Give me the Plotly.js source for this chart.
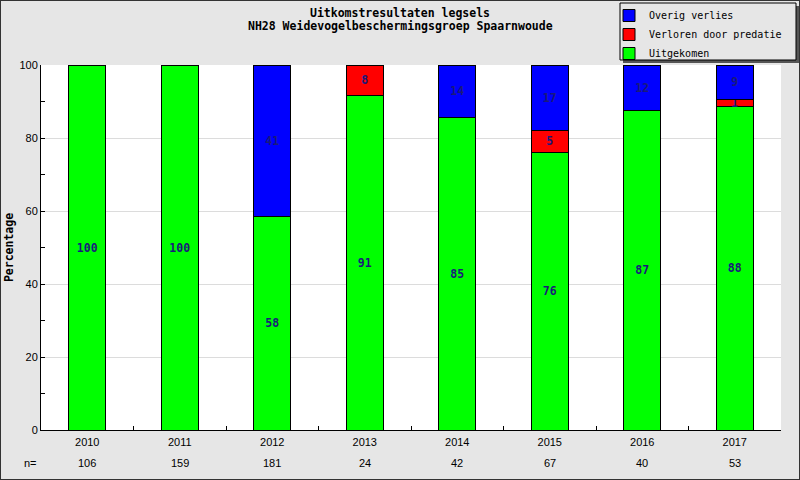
<!DOCTYPE html>
<html><head><meta charset="utf-8">
<script src="https://cdn.plot.ly/plotly-3.0.1.min.js"></script>
<style>
html,body{margin:0;padding:0;background:#e6e6e6;}
#wrap{position:relative;width:800px;height:480px;}
#chart{width:800px;height:480px;}
#frame{position:absolute;left:0;top:0;width:798px;height:478px;border:1px solid #333;pointer-events:none;}
</style></head>
<body><div id="wrap"><div id="chart"></div><div id="frame"></div></div>
<script>
const years = ['2010','2011','2012','2013','2014','2015','2016','2017'];
const nValues = [106,159,181,24,42,67,40,53];
const uitgekomen = [100,100,58.56,91.67,85.71,76.12,87.5,88.68];
const predatie = [0,0,0,8.33,0,5.97,0,1.89];
const overig = [0,0,41.44,0,14.29,17.91,12.5,9.43];
const titleLines = ['Uitkomstresultaten legsels','NH28 Weidevogelbeschermingsgroep Spaarnwoude'];

const labelOf = v => v > 0 ? String(Math.floor(v)) : '';
const textFont = {family:'DejaVu Sans Mono', size:11.5, color:'#1a1a7a', weight:'bold'};
function series(name, vals, color){
  return {type:'bar', name:name, x:years, y:vals, text:vals.map(labelOf),
    textposition:'inside', insidetextanchor:'middle', textangle:0, constraintext:'none',
    textfont:textFont, marker:{color:color, line:{color:'#000', width:1}}, width:0.4,
    hoverinfo:'skip', cliponaxis:false};
}
const data = [
  series('Uitgekomen', uitgekomen, '#00ff00'),
  series('Verloren door predatie', predatie, '#ff0000'),
  series('Overig verlies', overig, '#0000ff')
];
const L=41, R=781, T=65, B=430, W=R-L, H=B-T;
const px = x => (x-L)/W, py = y => (B-y)/H;
const tickFont = {family:'Liberation Sans', size:11, color:'#000'};
const titleFont = {family:'DejaVu Sans Mono', size:11.5, color:'#000', weight:'bold'};
const annotations = nValues.map((n,i)=>({xref:'x', yref:'paper', x:i, y:py(463),
  text:String(n), showarrow:false, font:tickFont, xanchor:'center', yanchor:'middle'}));
annotations.push({xref:'paper', yref:'paper', x:px(22), y:py(463), text:'n=', showarrow:false,
  font:tickFont, xanchor:'left', yanchor:'middle'});
annotations.push({xref:'paper', yref:'paper', x:px(400), y:py(26), text:titleLines[1], showarrow:false,
  font:titleFont, xanchor:'center', yanchor:'middle'});
const layout = {
  width:800, height:480,
  margin:{l:L, r:800-R, t:T, b:480-B, pad:0, autoexpand:false},
  paper_bgcolor:'#e6e6e6', plot_bgcolor:'#ffffff',
  barmode:'stack',
  title:{text:titleLines[0], font:titleFont,
    x:0.5, xref:'container', xanchor:'center', y:1-13/480, yref:'container', yanchor:'middle'},
  xaxis:{type:'category', range:[-0.5, years.length-0.5], autorange:false,
    showline:true, linecolor:'#000', linewidth:1, showgrid:false,
    ticks:'inside', tickson:'boundaries', ticklen:4, tickcolor:'#000', tickfont:tickFont,
    ticklabelstandoff:2,
    zeroline:false, fixedrange:true},
  yaxis:{range:[0,100], dtick:20, showline:true, linecolor:'#000', linewidth:1,
    showgrid:true, gridcolor:'#dcdcdc', gridwidth:1, zeroline:false,
    ticks:'inside', ticklen:4, tickcolor:'#000', tickfont:tickFont,
    minor:{dtick:10, ticks:'inside', ticklen:4, tickcolor:'#000', showgrid:false},
    automargin:true,
    title:{text:'Percentage', font:titleFont, standoff:3},
    fixedrange:true},
  legend:{x:px(609), y:py(1), xanchor:'left', yanchor:'top', traceorder:'reversed',
    bgcolor:'rgba(0,0,0,0)', borderwidth:0,
    font:{family:'DejaVu Sans Mono', size:10, color:'#000'}, itemclick:false},
  shapes:[
    {type:'rect', xref:'paper', yref:'paper', x0:px(623), x1:px(800), y0:py(63), y1:py(6), fillcolor:'#555', line:{width:0}, layer:'above'},
    {type:'rect', xref:'paper', yref:'paper', x0:px(620), x1:px(796), y0:py(60), y1:py(3), fillcolor:'#e6e6e6', line:{color:'#000', width:1}, layer:'above'}
  ],
  annotations:annotations,
  showlegend:true
};
Plotly.newPlot('chart', data, layout, {staticPlot:true, displayModeBar:false});
</script></body></html>
